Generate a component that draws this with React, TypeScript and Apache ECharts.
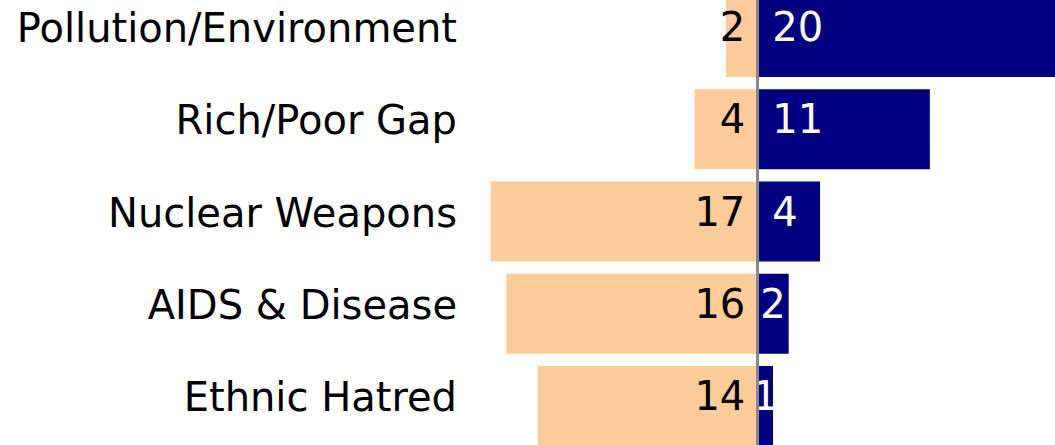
import React, { useEffect, useRef } from "react";
import * as echarts from "echarts";

const categories = [
  "Pollution/Environment",
  "Rich/Poor Gap",
  "Nuclear Weapons",
  "AIDS & Disease",
  "Ethnic Hatred",
];
const leftValues = [2, 4, 17, 16, 14];
const rightValues = [20, 11, 4, 2, 1];

const FONT = "DejaVu Sans";
const SHIFT = 20; // chart canvas extends beyond the viewport on top

export default function App() {
  const ref = useRef<HTMLDivElement>(null);
  useEffect(() => {
    if (!ref.current) return;
    const chart = echarts.init(ref.current, null, { renderer: "svg" });
    chart.setOption({
      animation: false,
      grid: { left: 475, top: -9 + SHIFT, width: 596, height: 461, containLabel: false },
      xAxis: {
        type: "value",
        min: -18,
        max: 20,
        show: false,
      },
      yAxis: {
        type: "category",
        data: categories,
        inverse: true,
        axisLine: { show: false },
        axisTick: { show: false },
        splitLine: { show: false },
        axisLabel: {
          fontFamily: FONT,
          fontSize: 40,
          color: "#000",
          margin: 18,
          formatter: (v: string) => "{a|" + v + "}",
          rich: {
            a: {
              fontFamily: FONT,
              fontSize: 40,
              color: "#000",
              padding: [0, 0, 18, 0],
            },
          },
        },
      },
      series: [
        {
          type: "bar",
          data: leftValues.map((v) => -v),
          barWidth: 80,
          barGap: "-100%",
          itemStyle: { color: "#FDCC99" },
          label: {
            show: true,
            position: "insideRight",
            distance: 12,
            offset: [0, -10],
            fontFamily: FONT,
            fontSize: 40,
            color: "#000",
            formatter: (p: any) => String(Math.abs(p.value)),
          },
          markLine: {
            silent: true,
            symbol: "none",
            label: { show: false },
            lineStyle: { color: "#888888", width: 3, type: "solid" },
            data: [{ xAxis: 0 }],
          },
        },
        {
          type: "bar",
          data: rightValues.map((v) => ({
            value: v,
            label: v <= 2 ? { position: "inside" } : { position: "insideLeft" },
          })),
          barWidth: 80,
          barGap: "-100%",
          itemStyle: { color: "#000080" },
          label: {
            show: true,
            position: "insideLeft",
            distance: 15,
            offset: [0, -10],
            fontFamily: FONT,
            fontSize: 40,
            color: "#fff",
          },
        },
      ],
    });
    return () => chart.dispose();
  }, []);
  return (
    <div
      ref={ref}
      style={{ position: "fixed", left: 0, top: -SHIFT, width: 1100, height: 500, background: "#fff" }}
    />
  );
}
